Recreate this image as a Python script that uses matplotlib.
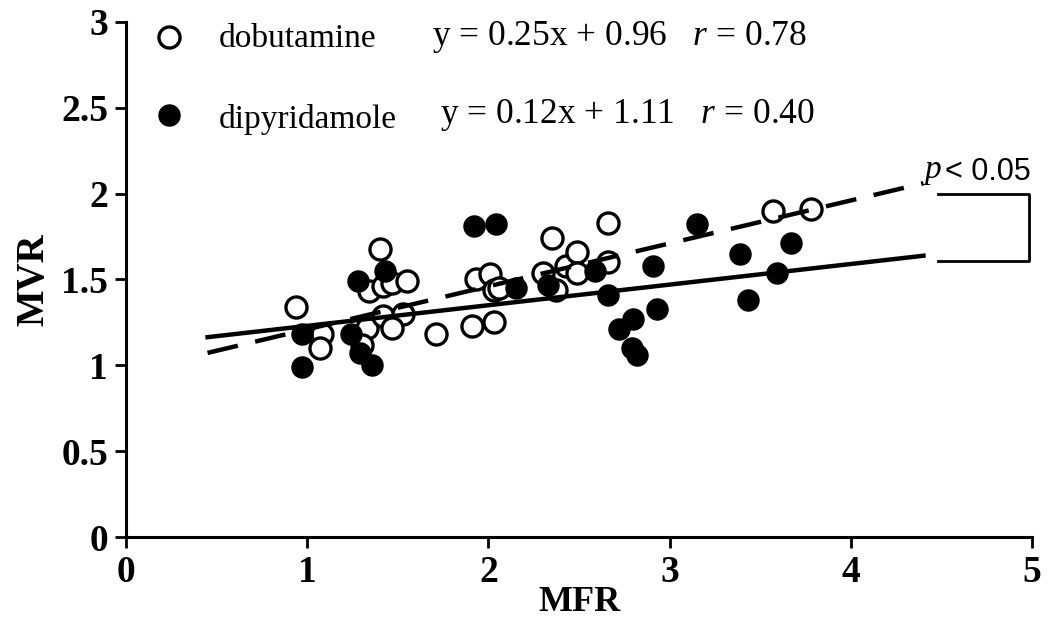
import matplotlib
matplotlib.use("Agg")
import matplotlib.pyplot as plt
import numpy as np

# dobutamine (open circles)
dob_x = [0.94, 1.08, 1.07, 1.33, 1.30, 1.34, 1.42, 1.47, 1.55, 1.40, 1.42, 1.53, 1.47, 1.71,
         1.91, 1.93, 2.01, 2.03, 2.06, 2.03, 2.30, 2.35, 2.37, 2.43, 2.49, 2.49, 2.66, 2.66,
         3.57, 3.78]
dob_y = [1.34, 1.18, 1.10, 1.22, 1.12, 1.43, 1.46, 1.48, 1.49, 1.68, 1.29, 1.30, 1.22, 1.18,
         1.23, 1.50, 1.53, 1.44, 1.45, 1.25, 1.54, 1.74, 1.44, 1.58, 1.66, 1.54, 1.83, 1.60,
         1.90, 1.91]

# dipyridamole (filled circles)
dip_x = [0.97, 0.97, 1.24, 1.28, 1.43, 1.29, 1.36, 1.92, 2.04, 2.15, 2.33, 2.59, 2.66,
         2.72, 2.80, 2.79, 2.82, 2.91, 2.93, 3.15, 3.39, 3.43, 3.59, 3.67]
dip_y = [1.18, 0.99, 1.18, 1.49, 1.55, 1.07, 1.00, 1.81, 1.82, 1.45, 1.47, 1.55, 1.41,
         1.21, 1.27, 1.10, 1.06, 1.58, 1.33, 1.82, 1.65, 1.38, 1.54, 1.71]

# regression fits
dob_fit = (0.25, 0.96)
dip_fit = (0.12, 1.11)
fit_range = (0.45, 4.4)

x_ticks = [0, 1, 2, 3, 4, 5]
y_ticks = [0, 0.5, 1, 1.5, 2, 2.5, 3]
y_ticklabels = ["0", "0.5", "1", "1.5", "2", "2.5", "3"]

serif = ["Liberation Serif", "DejaVu Serif"]
plt.rcParams["font.family"] = serif
plt.rcParams["mathtext.fontset"] = "custom"
plt.rcParams["mathtext.it"] = "Liberation Serif:italic"
plt.rcParams["mathtext.rm"] = "Liberation Serif"

fig = plt.figure(figsize=(10.5, 6.21), dpi=100)
ax = fig.add_axes([0.12, 0.135, 0.863, 0.83])

ms = 230
ax.scatter(dob_x, dob_y, s=ms, facecolors="white", edgecolors="black", linewidths=2.4, zorder=3)
ax.scatter(dip_x, dip_y, s=ms, facecolors="black", edgecolors="black", linewidths=1.0, zorder=3)

xs = np.array(fit_range)
ax.plot(xs, dob_fit[0] * xs + dob_fit[1], color="black", lw=3.2, ls=(0, (7, 4)), zorder=4)
ax.plot(xs, dip_fit[0] * xs + dip_fit[1], color="black", lw=3.2, zorder=4)

# bracket
ax.plot([4.48, 4.98, 4.98, 4.48], [2.0, 2.0, 1.61, 1.61], color="black", lw=2.0, clip_on=False)
ax.text(4.40, 2.04, "$\\it{p}$", fontsize=24, ha="left", va="bottom")
ax.text(4.52, 2.04, "< 0.05", fontsize=22, ha="left", va="bottom",
        family=["Liberation Sans", "DejaVu Sans"])

# legend-like annotations
ax.scatter([0.24], [2.91], s=ms, facecolors="white", edgecolors="black", linewidths=2.4, clip_on=False)
ax.scatter([0.24], [2.46], s=ms, facecolors="black", edgecolors="black", clip_on=False)
ax.text(0.51, 2.90, "dobutamine", fontsize=24, va="center", ha="left")
ax.text(0.51, 2.43, "dipyridamole", fontsize=24, va="center", ha="left")
ax.text(1.69, 2.91, "y = 0.25x + 0.96   $\\it{r}$ = 0.78", fontsize=25.5, va="center", ha="left")
ax.text(1.73, 2.46, "y = 0.12x + 1.11   $\\it{r}$ = 0.40", fontsize=25.5, va="center", ha="left")

ax.set_xlim(0, 5)
ax.set_ylim(0, 3)
ax.set_xticks(x_ticks)
ax.set_yticks(y_ticks)
ax.set_yticklabels(y_ticklabels)
for lbl in ax.get_xticklabels() + ax.get_yticklabels():
    lbl.set_fontsize(27)
    lbl.set_fontweight("bold")
ax.spines["top"].set_visible(False)
ax.spines["right"].set_visible(False)
for s in ["left", "bottom"]:
    ax.spines[s].set_linewidth(2.2)
ax.tick_params(width=2.0, length=8, direction="out", pad=5)
ax.set_xlabel("MFR", fontsize=26, fontweight="bold", labelpad=-3)
ax.set_ylabel("MVR", fontsize=28, fontweight="bold", labelpad=6)

fig.savefig("out.png", dpi=100)
